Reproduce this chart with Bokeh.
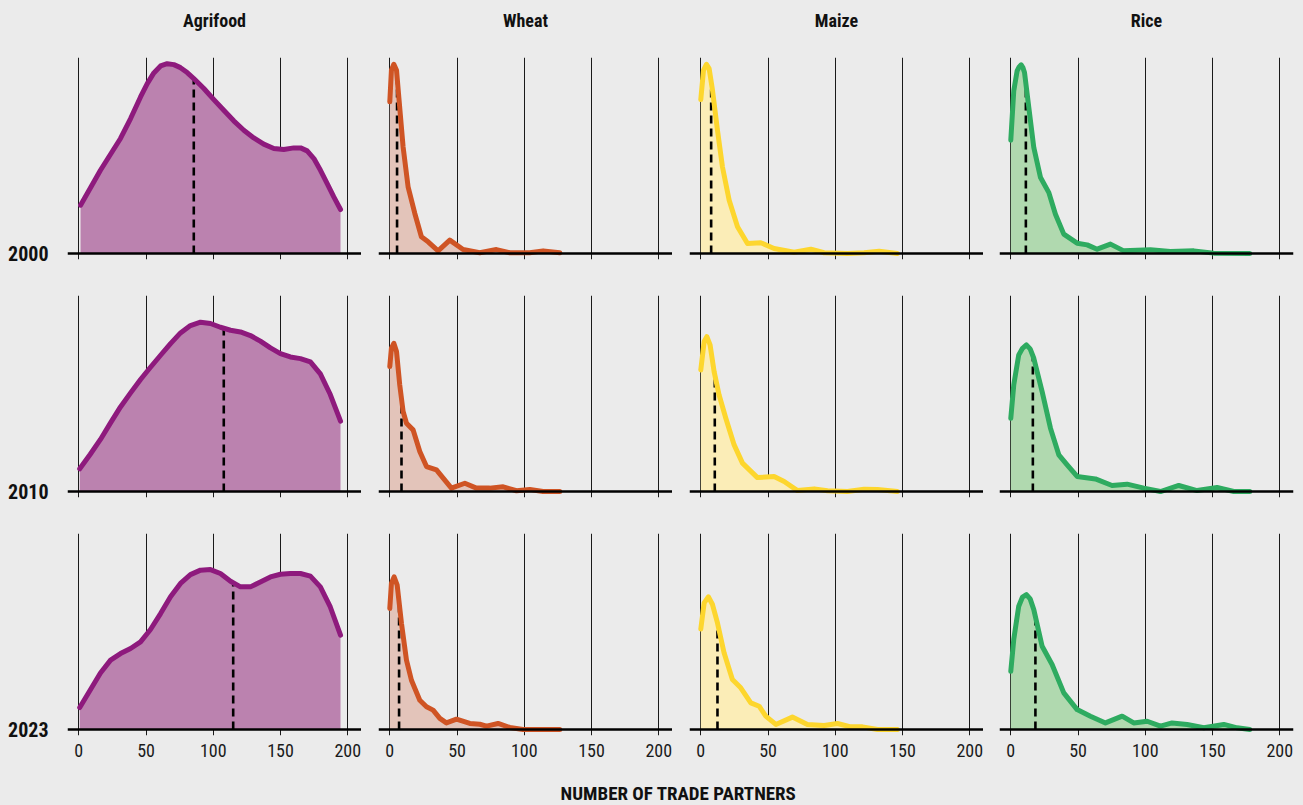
import numpy as np
from bokeh.plotting import figure
from bokeh.layouts import column, row
from bokeh.models import FixedTicker, Range1d, Span
from bokeh.core.properties import value
from bokeh.embed import file_html
from bokeh.resources import INLINE

# ---------------- data (relative density, 100 = column maximum) ----------------
COMMODITIES = ["Agrifood", "Wheat", "Maize", "Rice"]
YEARS = ["2000", "2010", "2023"]
X_TICKS = [0, 50, 100, 150, 200]
X_LABEL = "NUMBER OF TRADE PARTNERS"

AGRI_2000_X = [1.3, 16.1, 23.6, 31, 38.5, 45.9, 50.9, 55.8, 60.8, 65.7, 70.7, 75.6, 80.6, 85.5, 93, 100.4, 107.8,
               115.2, 122.7, 130.1, 137.5, 145, 152.4, 159.9, 164.9, 169.8, 174.8, 179.7, 184.7, 189.6, 194.6]
AGRI_2000_Y = [25.7, 44.3, 52.8, 61.2, 71.8, 83.3, 90.4, 96.1, 99.8, 101, 100.5, 98.9, 96.3, 93.1, 87.8, 81.9, 76.2,
               70.6, 65.6, 61.5, 58.2, 55.9, 55.3, 56.2, 56.2, 54.6, 50.5, 44.3, 37.2, 30.1, 23.4]
AGRI_2010_X = [0.7, 8.4, 16.1, 23.6, 31, 38.5, 45.9, 53.3, 60.8, 68.2, 75.6, 83, 90.5, 97.9, 105.3, 112.8, 120.2,
               127.6, 135, 142.5, 149.9, 157.3, 164.8, 172.2, 179.6, 187, 194.6]
AGRI_2010_Y = [12.1, 19.7, 27.7, 36.5, 45, 52.5, 59.6, 66.1, 72.5, 78.7, 84.4, 88.3, 90.1, 89.4, 87.4, 85.8, 84.9,
               83, 80, 76.4, 73.4, 71.6, 70.7, 69, 62.6, 51.6, 37.4]
AGRI_2023_X = AGRI_2010_X
AGRI_2023_Y = [11.7, 20.9, 30.1, 36.9, 40.4, 43.1, 46.6, 53.2, 61.7, 70.6, 77.7, 82.4, 84.8, 85.1, 83, 78.9, 75.9,
               75.9, 78.5, 81.2, 82.6, 83, 83, 81.6, 75.9, 65.2, 50.2]

WHEAT_2000_X = [0, 1.2, 3, 5, 6.9, 9.9, 13.6, 18.6, 23.5, 28.5, 35.9, 44.6, 54.5, 66.9, 79.3, 89.2, 104, 114, 126.4]
WHEAT_2000_Y = [80.7, 97.5, 100.7, 97.5, 81.6, 56.7, 35.5, 21.3, 8.9, 6.2, 1.4, 7.1, 2.1, 0.4, 2.1, 0.4, 0.4, 1.4, 0.4]
WHEAT_2010_X = [0, 1.2, 3, 5, 7.4, 9.9, 12.4, 17.3, 22.3, 27.3, 34.7, 39.7, 45.8, 55.8, 64.4, 74.3, 84.3, 94.2,
                104.1, 114, 126.4]
WHEAT_2010_Y = [66.5, 76.2, 78.9, 74.5, 56.7, 42.6, 36.3, 32.8, 21.3, 13.3, 11.5, 7.1, 1.8, 4.4, 1.8, 1.8, 2.5, 0.4,
                1.1, 0, 0]
WHEAT_2023_X = [0, 1.2, 3.2, 5.5, 8.7, 12.4, 16.1, 22.3, 27.3, 32.2, 37.2, 42.1, 49.6, 59.5, 66.9, 71.9, 80.5, 89.2,
                99.1, 126.4]
WHEAT_2023_Y = [64.4, 77.7, 81.2, 76.8, 56.4, 36.9, 26.2, 15.6, 12.1, 10.3, 5.9, 3.5, 5.5, 3.2, 2.8, 1.8, 3.2, 1.1,
                0, 0]

MAIZE_2000_X = [0, 2, 4.2, 6.2, 8.7, 12.4, 16.1, 21.1, 27.3, 34.7, 44.6, 54.5, 69.4, 81.8, 91.7, 109, 121.4, 132.6,
                146.2]
MAIZE_2000_Y = [81.9, 97.5, 100.7, 98.4, 86.9, 65.6, 46.1, 28.4, 14.2, 5.3, 5.7, 2.7, 0.7, 2.3, 0.4, 0, 0.4, 1.2, 0]
MAIZE_2010_X = [0, 2.5, 4.5, 6.9, 9.9, 13.6, 18.6, 24.8, 31, 42.1, 54.5, 62, 71.9, 84.3, 94.2, 109, 121.4, 131.4,
                146.2]
MAIZE_2010_Y = [64.7, 79.8, 82.4, 78, 63.8, 51.4, 39, 24.8, 15.1, 7.4, 8, 5.3, 0.5, 1.4, 0.4, 0, 1.2, 1.1, 0]
MAIZE_2023_X = [0, 2.5, 5.7, 8.7, 12.4, 17.3, 23.5, 29.7, 37.2, 43.4, 48.3, 55.8, 68.1, 79.3, 91.7, 101.6, 111.5,
                120.2, 131.4, 146.2]
MAIZE_2023_Y = [53.5, 67.4, 70.6, 66.5, 56.7, 40.8, 26.6, 22.2, 14.2, 12.4, 7.1, 2.7, 6.6, 2.7, 2.1, 3.2, 1.4, 1.4,
                0, 0]

RICE_2000_X = [0, 2.2, 4.7, 6.2, 7.7, 9.0, 10.2, 13.4, 17.1, 22.1, 28.3, 33.2, 39.4, 49.3, 56.8, 64.2, 74.1, 84,
               103.8, 118.7, 136.1, 150.9, 177.7]
RICE_2000_Y = [60.3, 86.5, 97.2, 99.3, 100.4, 98.9, 96.3, 77.7, 56.4, 40.4, 32.4, 20.9, 10.3, 5.5, 4.6, 2.3, 5, 1.4,
               2, 1.1, 1.4, 0.2, 0]
RICE_2010_X = [0, 2.2, 5.9, 8.7, 11.6, 14.4, 17.1, 23.3, 29.5, 35.7, 41.9, 49.3, 62.9, 75.3, 86.5, 98.9, 111.3,
               124.9, 138.5, 153.4, 165.8, 177.7]
RICE_2010_Y = [39, 56.7, 72.7, 76.2, 78, 75.9, 70.9, 53.2, 33.7, 19.5, 14.2, 8, 6.7, 3.2, 3.9, 1.8, 0, 3.2, 0.5, 2.1,
               0, 0]
RICE_2023_X = [0, 2.2, 5.9, 8.7, 11.6, 14.4, 17.1, 23.3, 30.7, 39.4, 49.3, 59.2, 70.4, 82.8, 91.4, 101.4, 111.3,
               119.9, 131.1, 143.5, 158.4, 168.3, 177.7]
RICE_2023_Y = [31, 47.9, 65.6, 70.5, 71.8, 69.5, 63.8, 44.3, 34.6, 19.5, 10.6, 7.1, 3.5, 7.1, 3.5, 4.4, 1.8, 3.5,
               2.7, 0.9, 2.7, 0.9, 0]

# medians (number of trade partners)
AGRI_MEDIAN = [85.5, 107.8, 114.8]
WHEAT_MEDIAN = [5.4, 8.7, 6.9]
MAIZE_MEDIAN = [7.7, 10.4, 12.4]
RICE_MEDIAN = [11.2, 16.4, 18.3]

SERIES = {
    "Agrifood": [(AGRI_2000_X, AGRI_2000_Y), (AGRI_2010_X, AGRI_2010_Y), (AGRI_2023_X, AGRI_2023_Y)],
    "Wheat": [(WHEAT_2000_X, WHEAT_2000_Y), (WHEAT_2010_X, WHEAT_2010_Y), (WHEAT_2023_X, WHEAT_2023_Y)],
    "Maize": [(MAIZE_2000_X, MAIZE_2000_Y), (MAIZE_2010_X, MAIZE_2010_Y), (MAIZE_2023_X, MAIZE_2023_Y)],
    "Rice": [(RICE_2000_X, RICE_2000_Y), (RICE_2010_X, RICE_2010_Y), (RICE_2023_X, RICE_2023_Y)],
}
MEDIANS = {"Agrifood": AGRI_MEDIAN, "Wheat": WHEAT_MEDIAN, "Maize": MAIZE_MEDIAN, "Rice": RICE_MEDIAN}

# ---------------- style / layout ----------------
BG = "#EBEBEB"
LINE_COLORS = {"Agrifood": "#8E1A7D", "Wheat": "#CF5424", "Maize": "#FDD62E", "Rice": "#2EAB60"}
FILL_COLORS = {"Agrifood": "#BB82AF", "Wheat": "#E3C4BA", "Maize": "#FBEDB7", "Rice": "#B0D9AF"}
FONT = "Liberation Sans Narrow, Roboto Condensed, DejaVu Sans Condensed, Arial Narrow, sans-serif"

TOTAL_W, TOTAL_H = 1303, 805
HEADER_H = 57
FOOTER_H = 38
FRAME_W = 294
FRAME_H = 202          # includes 6 px below the baseline for tick stubs
PX_PER_UNIT_Y = 1.88
LEFTS = [67, 17, 17, 16]
RIGHTS = [0, 0, 0, 10]
BOTTOMS = [36, 36, 32]
X_START, X_END = -8.4, 210.2
Y_START, Y_END = -6 / PX_PER_UNIT_Y, 104.3

# column title header (pixel coordinates)
header = figure(width=TOTAL_W, height=HEADER_H, x_range=Range1d(0, TOTAL_W), y_range=Range1d(HEADER_H, 0),
                toolbar_location=None, output_backend="svg", min_border=0, x_axis_location=None,
                y_axis_location=None, background_fill_color=BG, border_fill_color=BG, outline_line_color=None,
                title=None)
header.xgrid.visible = False
header.ygrid.visible = False
centers = []
acc = 0
for c in range(len(COMMODITIES)):
    centers.append(acc + LEFTS[c] + FRAME_W / 2)
    acc += LEFTS[c] + FRAME_W + RIGHTS[c]
header.text(x=centers, y=[20] * len(COMMODITIES), text=COMMODITIES, text_align="center", text_baseline="middle",
            text_font=value(FONT), text_font_size="18px", text_font_style="bold", text_color="#111111")

rows = [header]
for r, year in enumerate(YEARS):
    figs = []
    last_row = r == len(YEARS) - 1
    for c, name in enumerate(COMMODITIES):
        kw = dict(
            width=LEFTS[c] + FRAME_W + RIGHTS[c],
            height=FRAME_H + BOTTOMS[r],
            x_range=Range1d(X_START, X_END),
            y_range=Range1d(Y_START, Y_END),
            toolbar_location=None,
            output_backend="svg",
            min_border_left=LEFTS[c], min_border_right=RIGHTS[c],
            min_border_top=0, min_border_bottom=BOTTOMS[r],
            background_fill_color=BG, border_fill_color=BG,
            outline_line_color=None, title=None,
        )
        if c != 0:
            kw["y_axis_location"] = None
        if not last_row:
            kw["x_axis_location"] = None
        p = figure(**kw)

        # vertical grid (also forms the tick stubs below the baseline)
        p.ygrid.visible = False
        p.xgrid.ticker = FixedTicker(ticks=X_TICKS)
        p.xgrid.grid_line_color = "#1a1a1a"
        p.xgrid.grid_line_width = 1
        p.xgrid.grid_line_alpha = 1

        # baseline
        p.add_layout(Span(location=0, dimension="width", line_color="#000000", line_width=2.6))

        # tick labels on the last row only
        if last_row:
            xa = p.xaxis[0]
            xa.ticker = FixedTicker(ticks=X_TICKS)
            xa.axis_line_color = None
            xa.major_tick_line_color = None
            xa.minor_tick_line_color = None
            xa.major_tick_in = 0
            xa.major_tick_out = 0
            xa.major_label_standoff = 8
            xa.major_label_text_font = FONT
            xa.major_label_text_font_size = "18px"
            xa.major_label_text_color = "#1a1a1a"

        # year label on the left
        if c == 0:
            ya = p.yaxis[0]
            ya.ticker = FixedTicker(ticks=[0])
            ya.major_label_overrides = {0: year}
            ya.axis_line_color = None
            ya.major_tick_line_color = None
            ya.minor_tick_line_color = None
            ya.major_tick_in = 0
            ya.major_tick_out = 0
            ya.major_label_standoff = 19
            ya.major_label_text_font = FONT
            ya.major_label_text_font_size = "20px"
            ya.major_label_text_font_style = "bold"
            ya.major_label_text_color = "#111111"

        xs, ys = SERIES[name][r]
        xs = np.asarray(xs, dtype=float)
        ys = np.asarray(ys, dtype=float)
        p.varea(x=xs, y1=np.zeros_like(ys), y2=ys, fill_color=FILL_COLORS[name], fill_alpha=1)
        med = MEDIANS[name][r]
        med_h = float(np.interp(med, xs, ys))
        p.segment(x0=[med], y0=[0], x1=[med], y1=[med_h], line_color="#000000", line_width=2.6,
                  line_dash="8 5")
        p.line(x=xs, y=ys, line_color=LINE_COLORS[name], line_width=5, line_join="round", line_cap="round")
        figs.append(p)
    rows.append(row(*figs, spacing=0))

# bottom axis title (pixel coordinates of the page)
y0 = TOTAL_H - FOOTER_H
lab = figure(width=TOTAL_W, height=FOOTER_H, x_range=Range1d(0, TOTAL_W), y_range=Range1d(TOTAL_H, y0),
             toolbar_location=None, output_backend="svg", min_border=0, x_axis_location=None,
             y_axis_location=None, background_fill_color=BG, border_fill_color=BG, outline_line_color=None,
             title=None)
lab.xgrid.visible = False
lab.ygrid.visible = False
lab.text(x=[678], y=[793], text=[X_LABEL], text_align="center", text_baseline="middle",
         text_font=value(FONT), text_font_size="19px", text_font_style="bold", text_color="#111111")
rows.append(lab)

layout = column(*rows, spacing=0)
layout.styles = {"background-color": BG}

html = file_html(layout, INLINE, title="Trade partners density")
html = html.replace("<head>", "<head><style>html,body{margin:0;padding:0;background:#EBEBEB;}</style>", 1)
open("out.html", "w").write(html)
